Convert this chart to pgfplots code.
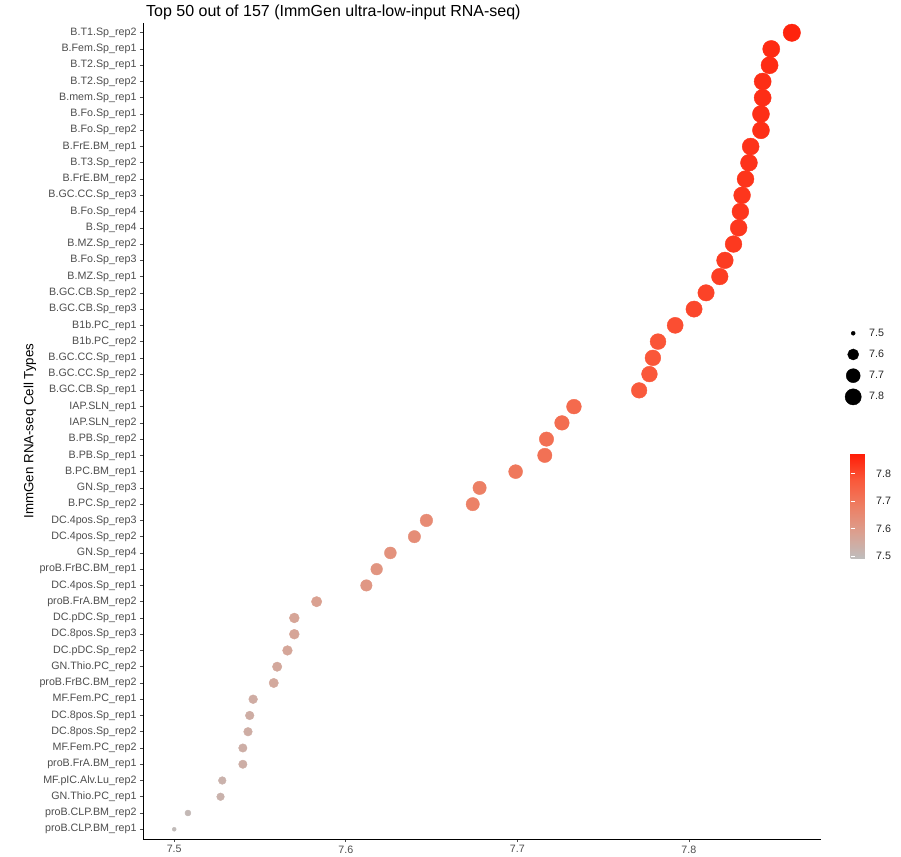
\documentclass[border=0pt]{standalone}
\usepackage{pgfplots}
\pgfplotsset{compat=1.18}
\usepackage{pgfplotstable}
\usepackage{fontspec}
\setmainfont{Liberation Sans}
\definecolor{tickgrey}{RGB}{77,77,77}
\pgfplotstableread{
v y
7.860 1
7.848 2
7.847 3
7.843 4
7.843 5
7.842 6
7.842 7
7.836 8
7.835 9
7.833 10
7.831 11
7.830 12
7.829 13
7.826 14
7.821 15
7.818 16
7.810 17
7.803 18
7.792 19
7.782 20
7.779 21
7.777 22
7.771 23
7.733 24
7.726 25
7.717 26
7.716 27
7.699 28
7.678 29
7.674 30
7.647 31
7.640 32
7.626 33
7.618 34
7.612 35
7.583 36
7.570 37
7.570 38
7.566 39
7.560 40
7.558 41
7.546 42
7.544 43
7.543 44
7.540 45
7.540 46
7.528 47
7.527 48
7.508 49
7.500 50
}\datatable
\begin{document}
\begin{tikzpicture}
\path[use as bounding box] (-143pt,-17pt) rectangle (758pt,839pt);
\begin{axis}[
  at={(0,0)}, anchor=south west,
  scale only axis, width=678pt, height=816pt,
  clip=false,
  xmin=7.4818, xmax=7.877,
  ymin=0.4, ymax=50.6, y dir=reverse,
  axis x line*=bottom, axis y line*=left,
  axis line style={black, line width=0.8pt, -},
  tick align=outside, major tick length=3pt,
  tick style={tickgrey, line width=0.6pt},
  /pgf/number format/assume math mode=true,
  xtick={7.5,7.6,7.7,7.8},
  xticklabels={7.5,7.6,7.7,7.8},
  ytick={1,...,50},
  yticklabels={B.T1.Sp\_rep2,B.Fem.Sp\_rep1,B.T2.Sp\_rep1,B.T2.Sp\_rep2,B.mem.Sp\_rep1,B.Fo.Sp\_rep1,B.Fo.Sp\_rep2,B.FrE.BM\_rep1,B.T3.Sp\_rep2,B.FrE.BM\_rep2,B.GC.CC.Sp\_rep3,B.Fo.Sp\_rep4,B.Sp\_rep4,B.MZ.Sp\_rep2,B.Fo.Sp\_rep3,B.MZ.Sp\_rep1,B.GC.CB.Sp\_rep2,B.GC.CB.Sp\_rep3,B1b.PC\_rep1,B1b.PC\_rep2,B.GC.CC.Sp\_rep1,B.GC.CC.Sp\_rep2,B.GC.CB.Sp\_rep1,IAP.SLN\_rep1,IAP.SLN\_rep2,B.PB.Sp\_rep2,B.PB.Sp\_rep1,B.PC.BM\_rep1,GN.Sp\_rep3,B.PC.Sp\_rep2,DC.4pos.Sp\_rep3,DC.4pos.Sp\_rep2,GN.Sp\_rep4,proB.FrBC.BM\_rep1,DC.4pos.Sp\_rep1,proB.FrA.BM\_rep2,DC.pDC.Sp\_rep1,DC.8pos.Sp\_rep3,DC.pDC.Sp\_rep2,GN.Thio.PC\_rep2,proB.FrBC.BM\_rep2,MF.Fem.PC\_rep1,DC.8pos.Sp\_rep1,DC.8pos.Sp\_rep2,MF.Fem.PC\_rep2,proB.FrA.BM\_rep1,MF.pIC.Alv.Lu\_rep2,GN.Thio.PC\_rep1,proB.CLP.BM\_rep2,proB.CLP.BM\_rep1},
  ticklabel style={font=\fontsize{10.7}{12}\selectfont, text=tickgrey},
  ylabel={ImmGen RNA-seq Cell Types},
  ylabel style={at={(axis description cs:-0.1667,0.5)}, anchor=center, font=\fontsize{13.3}{15}\selectfont, inner sep=0pt},
  title={Top 50 out of 157 (ImmGen ultra-low-input RNA-seq)},
  title style={at={(axis description cs:0,1)}, anchor=base west, yshift=0.5pt, xshift=3pt, inner sep=0pt, font=\fontsize{16}{19}\selectfont},
  colormap={gg}{rgb255(0)=(190,190,190) rgb255(1)=(219,160,144) rgb255(2)=(237,127,100) rgb255(3)=(250,88,58) rgb255(4)=(255,28,6)},
  point meta min=7.49, point meta max=7.872,
  colorbar,
  colorbar style={
    at={(parent axis.south east)}, anchor=south west, xshift=21pt, yshift=280pt,
    scale only axis, width=22pt, height=105.4pt,
    axis line style={draw=none},
    ytick={7.5,7.6,7.7,7.8},
    yticklabel pos=right, ytick pos=both,
    tick align=inside, major tick length=4pt,
    tick style={white, line width=0.6pt},
    /pgf/number format/fixed, /pgf/number format/fixed zerofill, /pgf/number format/precision=1, /pgf/number format/assume math mode=true,
    yticklabel style={font=\fontsize{10.7}{12}\selectfont, text=black!85},
  },
  legend style={at={(axis description cs:1.0354,0.633)}, anchor=north west, draw=none, fill=none, inner sep=0pt, row sep=0pt,
    nodes={inner sep=2pt}, font=\fontsize{10.7}{12}\selectfont, text=black!85},
  legend cell align=left,
  legend image code/.code={\begin{pgfinterruptboundingbox}\draw[#1] plot coordinates {(8pt,0pt)};\end{pgfinterruptboundingbox}\path[draw=none, fill=none] (0pt,-10.6pt) rectangle (22pt,10.6pt);},
]
\addplot[scatter, only marks, mark=*, forget plot,
  point meta=x,
  scatter/use mapped color={draw=mapped color, fill=mapped color},
  visualization depends on={2+6.7*sqrt(max(0,(\thisrow{v}-7.5)/0.36)) \as \msize},
  scatter/@pre marker code/.append style={/tikz/mark size=\msize},
] table[x=v, y=y] {\datatable};
\addlegendimage{only marks, mark=*, black, mark size=2}
\addlegendimage{only marks, mark=*, black, mark size=5.53}
\addlegendimage{only marks, mark=*, black, mark size=7.0}
\addlegendimage{only marks, mark=*, black, mark size=8.1}
\legend{7.5,7.6,7.7,7.8}
\end{axis}
\end{tikzpicture}
\end{document}
